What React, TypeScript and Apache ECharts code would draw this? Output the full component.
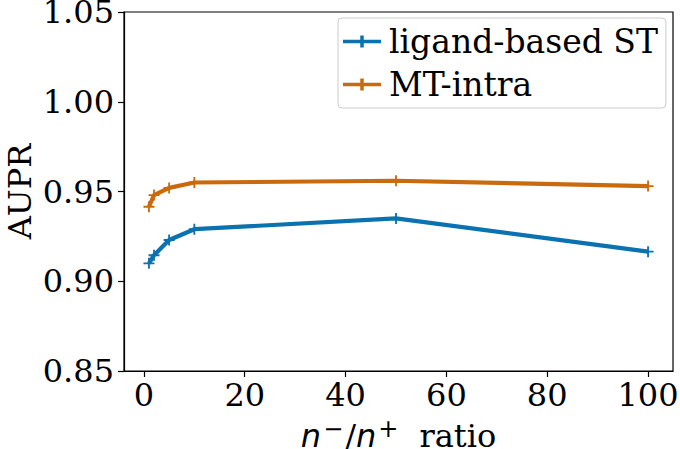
import React, { useEffect, useRef } from "react";
import * as echarts from "echarts";

const ratios = [1, 2, 5, 10, 50, 100];
const ligandST = [0.910, 0.9145, 0.923, 0.929, 0.935, 0.9165];
const mtIntra = [0.9415, 0.948, 0.952, 0.955, 0.956, 0.953];
const xTicks = [0, 20, 40, 60, 80, 100];
const yTicks = [0.85, 0.9, 0.95, 1.0, 1.05];
const seriesNames = ["ligand-based ST", "MT-intra"];
const colors = ["#0A72B0", "#CA6A0F"];

const FONT = "DejaVu Serif";
const plus = "path://M0,5h12v2h-12z M5,0h2v12h-2z";
const legendIcon = "path://M0,4.25h38v3.5h-38z M17.25,0h3.5v12h-3.5z";

export default function App() {
  const ref = useRef<HTMLDivElement>(null);
  useEffect(() => {
    const chart = echarts.init(ref.current!, null, { renderer: "svg" });
    const mk = (vals: number[]) => ratios.map((r, i) => [r, vals[i]]);
    chart.setOption({
      animation: false,
      backgroundColor: "#fff",
      textStyle: { fontFamily: FONT },
      grid: {
        left: 124,
        right: 7,
        top: 12,
        bottom: 78,
        containLabel: false,
        outerBoundsMode: "none",
        show: true,
        borderColor: "#000",
        borderWidth: 1.2,
        backgroundColor: "transparent",
      },
      legend: {
        orient: "vertical",
        left: 338,
        top: 18,
        padding: [7, 8, 7, 5],
        itemGap: 10,
        itemWidth: 38,
        itemHeight: 12,
        backgroundColor: "rgba(255,255,255,0.8)",
        borderColor: "#cccccc",
        borderWidth: 1,
        borderRadius: 4,
        textStyle: { fontFamily: FONT, fontSize: 33, color: "#000", padding: [0, 0, 0, 3] },
        data: seriesNames.map((n) => ({ name: n, icon: legendIcon })),
      },
      xAxis: {
        type: "value",
        min: -3.95,
        max: 104.95,
        splitLine: { show: false },
        axisLine: { show: true, onZero: false, lineStyle: { color: "#000", width: 1.2 } },
        axisTick: { show: true, length: 6, customValues: xTicks, lineStyle: { color: "#000", width: 1.2 } },
        axisLabel: {
          customValues: xTicks,
          fontFamily: FONT,
          fontSize: 32,
          color: "#000",
          margin: 8,
        },
        name: "{i|n}{sup|−}{n|/}{i|n}{sup|+}{r|ratio}",
        nameLocation: "middle",
        nameGap: 46,
        nameMoveOverlap: false,
        nameTextStyle: {
          rich: {
            i: { fontFamily: "DejaVu Sans", fontStyle: "italic", fontSize: 32, color: "#000" },
            sup: { fontFamily: "DejaVu Sans", fontSize: 24, color: "#000", padding: [0, 2, 14, 2] },
            n: { fontFamily: FONT, fontSize: 32, color: "#000" },
            r: { fontFamily: FONT, fontSize: 32, color: "#000", padding: [0, 0, 0, 19] },
          },
        },
      },
      yAxis: {
        type: "value",
        min: 0.85,
        max: 1.05,
        splitLine: { show: false },
        axisLine: { show: true, onZero: false, lineStyle: { color: "#000", width: 1.2 } },
        axisTick: { show: true, length: 6, customValues: yTicks, lineStyle: { color: "#000", width: 1.2 } },
        axisLabel: {
          customValues: yTicks,
          formatter: (v: number) => v.toFixed(2),
          fontFamily: FONT,
          fontSize: 32,
          color: "#000",
          margin: 10,
        },
        name: "AUPR",
        nameLocation: "middle",
        nameGap: 88,
        nameMoveOverlap: false,
        nameTextStyle: { fontFamily: FONT, fontSize: 32, color: "#000" },
      },
      series: seriesNames.map((n, k) => ({
        name: n,
        type: "line",
        data: mk(k === 0 ? ligandST : mtIntra),
        symbol: plus,
        symbolSize: 11,
        showSymbol: true,
        color: colors[k],
        itemStyle: { color: colors[k] },
        lineStyle: { color: colors[k], width: 4.2 },
        z: 3,
      })),
    });
    return () => chart.dispose();
  }, []);
  return (
    <div
      ref={ref}
      style={{ position: "absolute", left: 0, top: 0, width: 680, height: 449 }}
    />
  );
}
